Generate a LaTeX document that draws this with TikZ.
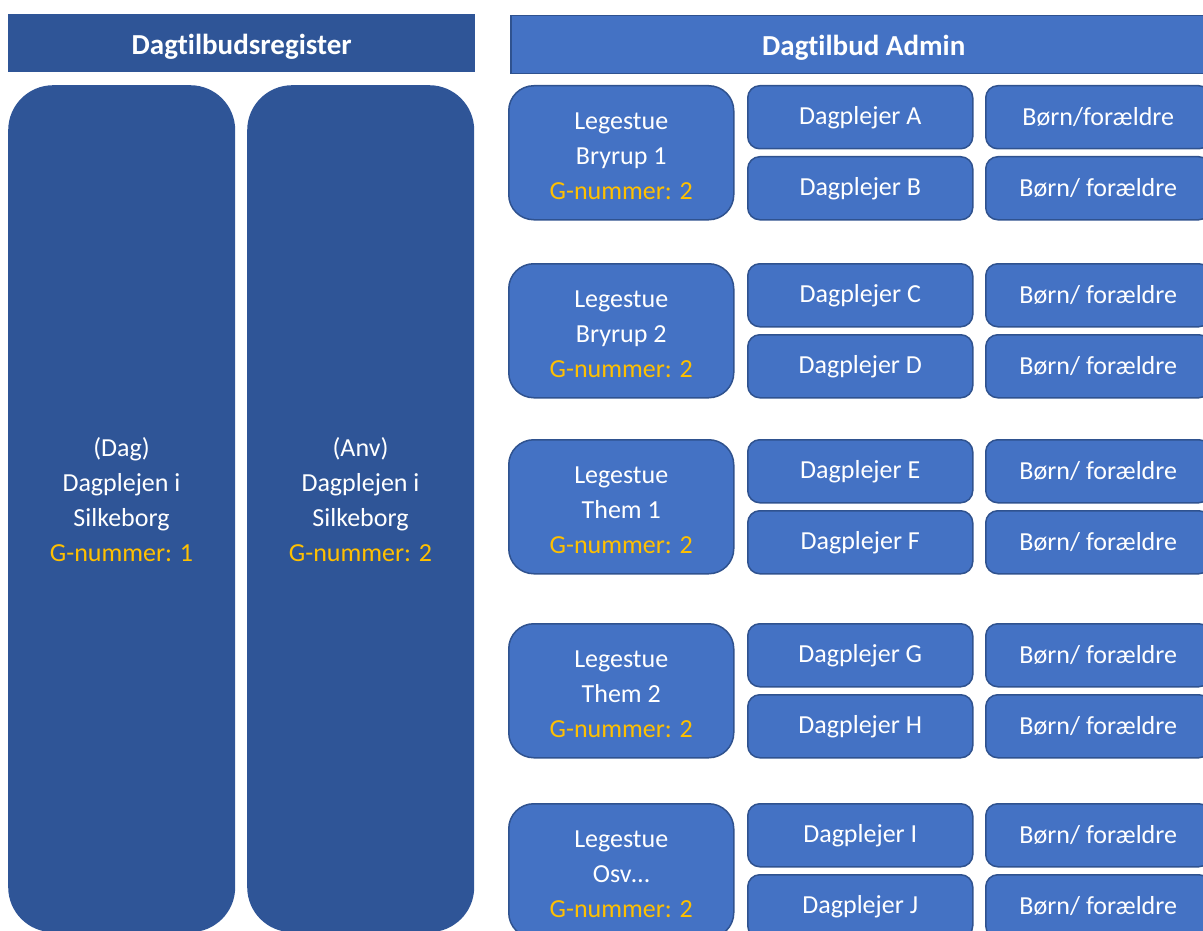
\documentclass[tikz,border=0pt]{standalone}
\usepackage{fontspec}
\setmainfont{Carlito}[Ligatures={NoCommon,NoRequired,NoContextual},RawFeature={-liga;-dlig;-calt}]
\definecolor{darkb}{HTML}{2F5597}
\definecolor{midb}{HTML}{4472C4}
\definecolor{edgeb}{HTML}{2F528F}
\definecolor{gold}{HTML}{FFC000}
\newcommand{\lowerhdr}[1]{\raisebox{-3.5pt}[\height][\depth]{#1}}
\begin{document}
\begin{tikzpicture}[x=1pt,y=-1pt,
  box/.style={rectangle, inner sep=0pt, align=center, text=white, anchor=north west,
    font=\fontsize{26}{35}\selectfont},
  hdrL/.style={box, fill=darkb, minimum width=467pt, minimum height=58pt,
    font=\bfseries\fontsize{29}{35}\selectfont},
  hdrR/.style={box, fill=midb, draw=edgeb, line width=1.5pt, minimum width=706pt, minimum height=58pt,
    font=\bfseries\fontsize{29}{35}\selectfont},
  colbox/.style={box, fill=darkb, rounded corners=45pt, minimum width=227pt, minimum height=847pt},
  coltext/.style={inner sep=0pt, align=center, text=white, font=\fontsize{26}{35}\selectfont},
  legbox/.style={box, fill=midb, draw=edgeb, line width=1.5pt, rounded corners=25pt,
    minimum width=225pt, minimum height=134pt},
  legtext/.style={coltext, yshift=-3.5pt},
  smallbox/.style={box, fill=midb, draw=edgeb, line width=1.5pt, rounded corners=12pt,
    minimum width=225pt, minimum height=63pt}
]
\useasboundingbox (0,0) rectangle (1203,931);
\clip (0,0) rectangle (1203,931);

% headers
\node[hdrL] (hreg) at (8,14) {\lowerhdr{Dagt\kern0pt ilbudsregister}};
\node[hdrR] (hadm) at (510,15) {\lowerhdr{Dagt\kern0pt ilbud Admin}};

% tall columns
\node[colbox] (col1) at (8,85) {};
\node[colbox] (col2) at (247,85) {};
\node[coltext] (col1t) at (121.5,500) {(Dag)\\Dagplejen i\\Silkeborg\\\textcolor{gold}{G-nummer: 1}};
\node[coltext] (col2t) at (360.5,500) {(Anv)\\Dagplejen i\\Silkeborg\\\textcolor{gold}{G-nummer: 2}};

% group 1
\node[legbox] (L1) at (508,85) {};
\node[legtext] (L1t) at (L1.center) {Legestue\\Bryrup 1\\\textcolor{gold}{G-nummer: 2}};
\node[smallbox] (DA) at (747,85) {Dagplejer A};
\node[smallbox] (DB) at (747,156) {Dagplejer B};
\node[smallbox] (BA) at (985,85) {Børn/forældre};
\node[smallbox] (BB) at (985,156) {Børn/ forældre};

% group 2
\node[legbox] (L2) at (508,263) {};
\node[legtext] (L2t) at (L2.center) {Legestue\\Bryrup 2\\\textcolor{gold}{G-nummer: 2}};
\node[smallbox] (DC) at (747,263) {Dagplejer C};
\node[smallbox] (DD) at (747,334) {Dagplejer D};
\node[smallbox] (BC) at (985,263) {Børn/ forældre};
\node[smallbox] (BD) at (985,334) {Børn/ forældre};

% group 3
\node[legbox] (L3) at (508,439) {};
\node[legtext] (L3t) at (L3.center) {Legestue\\Them 1\\\textcolor{gold}{G-nummer: 2}};
\node[smallbox] (DE) at (747,439) {Dagplejer E};
\node[smallbox] (DF) at (747,510) {Dagplejer F};
\node[smallbox] (BE) at (985,439) {Børn/ forældre};
\node[smallbox] (BF) at (985,510) {Børn/ forældre};

% group 4
\node[legbox] (L4) at (508,623) {};
\node[legtext] (L4t) at (L4.center) {Legestue\\Them 2\\\textcolor{gold}{G-nummer: 2}};
\node[smallbox] (DG) at (747,623) {Dagplejer G};
\node[smallbox] (DH) at (747,694) {Dagplejer H};
\node[smallbox] (BG) at (985,623) {Børn/ forældre};
\node[smallbox] (BH) at (985,694) {Børn/ forældre};

% group 5
\node[legbox] (L5) at (508,803) {};
\node[legtext] (L5t) at (L5.center) {Legestue\\Osv…\\\textcolor{gold}{G-nummer: 2}};
\node[smallbox] (DI) at (747,803) {Dagplejer I};
\node[smallbox] (DJ) at (747,874) {Dagplejer J};
\node[smallbox] (BI) at (985,803) {Børn/ forældre};
\node[smallbox] (BJ) at (985,874) {Børn/ forældre};
\end{tikzpicture}
\end{document}
